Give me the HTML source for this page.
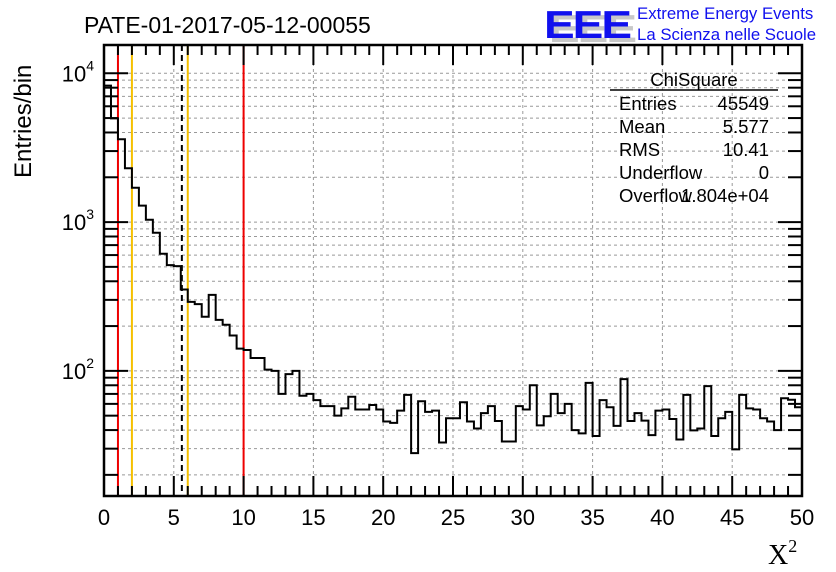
<!DOCTYPE html>
<html><head><meta charset="utf-8"><style>
html,body{margin:0;padding:0;background:#fff;}
svg{display:block;font-family:"Liberation Sans",sans-serif;}
</style></head><body>
<svg id="chart" width="836" height="572" viewBox="0 0 836 572" xmlns="http://www.w3.org/2000/svg">
<rect width="836" height="572" fill="#fff"/>
<g id="grid"></g>
<g id="marks"></g>
<path id="hist" fill="none" stroke="#000" stroke-width="2"/>
<g id="axes"></g>
<text x="84" y="33" font-size="23">PATE-01-2017-05-12-00055</text>
<g>
<text x="549" y="42" font-size="46" font-weight="bold" fill="#c8c8c8" letter-spacing="-2" transform="scale(1,0.85)" transform-origin="549 42">EEE</text>
<text x="544" y="38" font-size="46" font-weight="bold" fill="#1010ee" letter-spacing="-2" transform="scale(1,0.85)" transform-origin="544 38">EEE</text>
<text x="637" y="19" font-size="16.8" fill="#1010ee">Extreme Energy Events</text>
<text x="637" y="40" font-size="16.8" fill="#1010ee">La Scienza nelle Scuole</text>
</g>
<g font-size="18.5">
<text x="694" y="86" text-anchor="middle">ChiSquare</text>
<line x1="610" y1="90" x2="778" y2="90" stroke="#000" stroke-width="1.5"/>
<text x="619" y="110">Entries</text><text x="769" y="110" text-anchor="end">45549</text>
<text x="619" y="133">Mean</text><text x="769" y="133" text-anchor="end">5.577</text>
<text x="619" y="156">RMS</text><text x="769" y="156" text-anchor="end">10.41</text>
<text x="619" y="179">Underflow</text><text x="769" y="179" text-anchor="end">0</text>
<text x="619" y="202">Overflow</text><text x="769" y="202" text-anchor="end">1.804e+04</text>
</g>
<text transform="translate(31,178) rotate(-90)" font-size="24">Entries/bin</text>
<text x="768" y="564" font-size="28" font-family="Liberation Serif,serif">X<tspan font-size="18" dy="-12">2</tspan></text>
</svg>
<script>
const binWidth = 0.5;
const counts = [8260,4980,3600,2300,1700,1290,1036,847,612,514,506,352,291,281,231,324,220,204,173,141,
138,122,122,102,100,70,95,100,68,70,63.6,58,58,50,56,67,55,55,59,55,
45.7,44.7,54,69,28,62.5,53,54,33,48,48,61.5,45.7,41,52,58,46,33.5,33.5,58,
55,80,43,49.5,70,52,60,40,38,83,36.5,63.6,57,42.7,88,46,52,46.3,37,54,
55,47.5,34.6,69,39.8,41,79,36.5,48,53,29.7,69,56,55,48,45.7,40,65.5,64,57];
const xTicks = [0,5,10,15,20,25,30,35,40,45,50];
const yDecades = [2,3,4];
const redLines = [1,10];
const yellowLines = [2,6];
const meanLine = [5.577];

const L=104,R=802,T=45,B=496;
const yMinLog=1.159,yMaxLog=4.19;
const X=v=>L+(v-0)/(50-0)*(R-L);
const Y=v=>B-(Math.log10(v)-yMinLog)/(yMaxLog-yMinLog)*(B-T);
const NS="http://www.w3.org/2000/svg";
function mk(tag,attrs,parent){const e=document.createElementNS(NS,tag);for(const k in attrs)e.setAttribute(k,attrs[k]);parent.appendChild(e);return e;}
const grid=document.getElementById('grid'),axes=document.getElementById('axes'),marks=document.getElementById('marks');

for(let d=1;d<=4;d++){for(let m=1;m<=9;m++){const v=m*Math.pow(10,d);const lv=Math.log10(v);if(lv<yMinLog||lv>yMaxLog)continue;const y=Y(v);
const g=mk('line',{x1:L,x2:R,y1:y,y2:y,stroke:'#999','stroke-dasharray':'3,3','stroke-width':1},grid);


const len=m===1?24:14;
mk('line',{x1:L,x2:L+len,y1:y,y2:y,stroke:'#000','stroke-width':2},axes);
mk('line',{x1:R-len,x2:R,y1:y,y2:y,stroke:'#000','stroke-width':2},axes);}}
yDecades.forEach(d=>{const t=mk('text',{x:94,y:Y(Math.pow(10,d))+8,'font-size':22,'text-anchor':'end'},axes);


t.innerHTML='10<tspan font-size="14" dy="-11">'+d+'</tspan>';});
for(let v=0;v<=50;v++){const x=X(v);const major=v%5===0;
if(major&&v>0&&v<50){const g=mk('line',{x1:x,x2:x,y1:T,y2:B,stroke:'#999','stroke-dasharray':'3,3','stroke-width':1},grid);

}
const len=major?20:10;
mk('line',{x1:x,x2:x,y1:B,y2:B-len,stroke:'#000','stroke-width':2},axes);
mk('line',{x1:x,x2:x,y1:T,y2:T+len,stroke:'#000','stroke-width':2},axes);}
xTicks.forEach(v=>{const t=mk('text',{x:X(v),y:525,'font-size':22,'text-anchor':'middle'},axes);


t.textContent=v;});
const fr=mk('rect',{x:L,y:T,width:R-L,height:B-T,fill:'none',stroke:'#000','stroke-width':2.5},axes);



redLines.forEach(v=>{const l=mk('line',{x1:X(v),x2:X(v),y1:T,y2:B,stroke:'#e00','stroke-width':2},marks);

});
yellowLines.forEach(v=>{const l=mk('line',{x1:X(v),x2:X(v),y1:T,y2:B,stroke:'#f5c000','stroke-width':2},marks);

});
meanLine.forEach(v=>{const l=mk('line',{x1:X(v),x2:X(v),y1:T,y2:B,stroke:'#000','stroke-width':2,'stroke-dasharray':'6,4'},marks);

});

let d='M'+X(0)+','+B;
counts.forEach((c,i)=>{const y=Math.max(T,Math.min(B,Y(c)));d+=' L'+X(i*binWidth)+','+y+' L'+X((i+1)*binWidth)+','+y;});
d+=' L'+X(counts.length*binWidth)+','+B;
document.getElementById('hist').setAttribute('d',d);
</script>
</body></html>
